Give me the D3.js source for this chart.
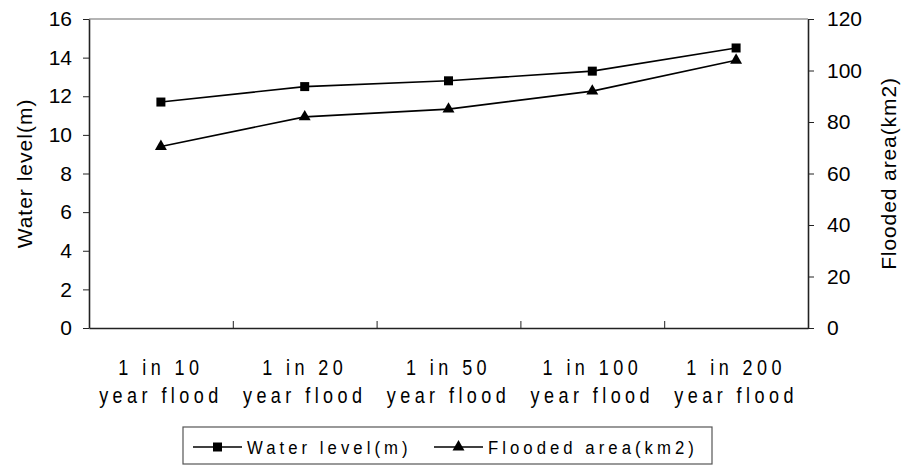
<!DOCTYPE html>
<html>
<head>
<meta charset="utf-8">
<script src="https://cdn.jsdelivr.net/npm/d3@7"></script>
<style>
  body { margin: 0; background: #fff; }
  text { font-family: "Liberation Sans", Arial, sans-serif; fill: #000; }
</style>
</head>
<body>
<svg id="chart" width="902" height="465"></svg>
<script>
const categories = ["1 in 10", "1 in 20", "1 in 50", "1 in 100", "1 in 200"];
const categorySuffix = "year flood";
const waterLevel = [11.7, 12.5, 12.8, 13.3, 14.5];
const floodedArea = [70.5, 82, 85, 92, 104];
const leftTicks = [0, 2, 4, 6, 8, 10, 12, 14, 16];
const rightTicks = [0, 20, 40, 60, 80, 100, 120];
const seriesNames = ["Water level(m)", "Flooded area(km2)"];

const margin = { top: 19, right: 94, bottom: 137, left: 89 };
const svg = d3.select("svg#chart"),
  width = +svg.attr("width") - margin.left - margin.right,
  height = +svg.attr("height") - margin.top - margin.bottom,
  g = svg.append("g").attr("transform", `translate(${margin.left}, ${margin.top})`);

const x = d3.scaleBand().domain(categories).range([0, width]).padding(0);
const yL = d3.scaleLinear().domain([0, 16]).range([height, 0]);
const yR = d3.scaleLinear().domain([0, 120]).range([height, 0]);
const cx = (i) => x(categories[i]) + x.bandwidth() / 2;

// frame top
g.append("line")
  .attr("x1", 0).attr("x2", width).attr("y1", 0).attr("y2", 0)
  .attr("stroke", "#6a6a6a").attr("stroke-width", 1.2);

// bottom axis: ticks between categories, pointing inward
const xb = d3.scaleLinear().domain([0, categories.length]).range([0, width]);
g.append("g")
  .attr("transform", `translate(0, ${height})`)
  .call(d3.axisBottom(xb).tickValues(d3.range(1, categories.length)).tickSizeInner(-7).tickSizeOuter(0).tickFormat(""))
  .call(a => a.select(".domain").attr("stroke", "#222").attr("stroke-width", 1.6))
  .call(a => a.selectAll(".tick line").attr("stroke", "#222"));

// category labels, two lines, narrow glyphs with wide spacing
const lab = g.append("g").attr("class", "xlabels")
  .selectAll("g").data(categories).enter().append("g")
  .attr("transform", d => `translate(${x(d) + x.bandwidth() / 2}, ${height}) scale(0.82, 1)`);
lab.append("text").attr("y", 47).attr("text-anchor", "middle")
  .style("font-size", "22px").style("letter-spacing", "5.4px").text(d => d);
lab.append("text").attr("y", 75).attr("text-anchor", "middle")
  .style("font-size", "22px").style("letter-spacing", "5.4px").text(categorySuffix);

// left axis
g.append("g")
  .call(d3.axisLeft(yL).tickValues(leftTicks).tickSizeInner(6).tickSizeOuter(0).tickPadding(11))
  .call(a => a.select(".domain").attr("stroke", "#222").attr("stroke-width", 1.6))
  .call(a => a.selectAll(".tick line").attr("stroke", "#222"))
  .call(a => a.selectAll(".tick text").style("font-size", "21px").attr("fill", "#000"));

// right axis
g.append("g")
  .attr("transform", `translate(${width}, 0)`)
  .call(d3.axisRight(yR).tickValues(rightTicks).tickSizeInner(6).tickSizeOuter(0).tickPadding(13))
  .call(a => a.select(".domain").attr("stroke", "#222").attr("stroke-width", 1.6))
  .call(a => a.selectAll(".tick line").attr("stroke", "#222"))
  .call(a => a.selectAll(".tick text").style("font-size", "21px").attr("fill", "#000"));

// axis titles
svg.append("text")
  .attr("transform", `translate(32, ${margin.top + height / 2}) rotate(-90)`)
  .attr("text-anchor", "middle").style("font-size", "21px").style("letter-spacing", "1px")
  .text("Water level(m)");
svg.append("text")
  .attr("transform", `translate(896, ${margin.top + height / 2}) rotate(-90)`)
  .attr("text-anchor", "middle").style("font-size", "21px").style("letter-spacing", "0.9px")
  .text("Flooded area(km2)");

// lines
const lineL = d3.line().x((d, i) => cx(i)).y(d => yL(d));
const lineR = d3.line().x((d, i) => cx(i)).y(d => yR(d));
g.append("path").datum(waterLevel).attr("d", lineL)
  .attr("fill", "none").attr("stroke", "#000").attr("stroke-width", 1.6);
g.append("path").datum(floodedArea).attr("d", lineR)
  .attr("fill", "none").attr("stroke", "#000").attr("stroke-width", 1.6);

const square = d3.symbol(d3.symbolSquare, 81);
const triangle = d3.symbol(d3.symbolTriangle, 62);
g.selectAll(".sq").data(waterLevel).enter().append("path")
  .attr("class", "sq").attr("d", square)
  .attr("transform", (d, i) => `translate(${cx(i)}, ${yL(d)})`).attr("fill", "#000");
g.selectAll(".tri").data(floodedArea).enter().append("path")
  .attr("class", "tri").attr("d", triangle)
  .attr("transform", (d, i) => `translate(${cx(i)}, ${yR(d)})`).attr("fill", "#000");

// legend
const legend = svg.append("g").attr("transform", "translate(183, 427)");
legend.append("rect").attr("x", 0).attr("y", 0).attr("width", 529).attr("height", 37)
  .attr("fill", "#fff").attr("stroke", "#555").attr("stroke-width", 1.2);
const items = legend.selectAll(".item").data(seriesNames).enter().append("g")
  .attr("class", "item").attr("transform", (d, i) => `translate(${i === 0 ? 10 : 251}, 20)`);
items.append("line").attr("x1", 0).attr("x2", 49).attr("y1", 0).attr("y2", 0)
  .attr("stroke", "#000").attr("stroke-width", 1.6);
items.append("path").attr("d", (d, i) => i === 0 ? square() : triangle())
  .attr("transform", "translate(24.5, 0)").attr("fill", "#000");
items.append("text").attr("x", 54).attr("y", 7)
  .attr("transform", "translate(54, 0) scale(0.88, 1) translate(-54, 0)")
  .style("font-size", "19px").style("letter-spacing", "4.6px").text(d => d);
</script>
</body>
</html>
